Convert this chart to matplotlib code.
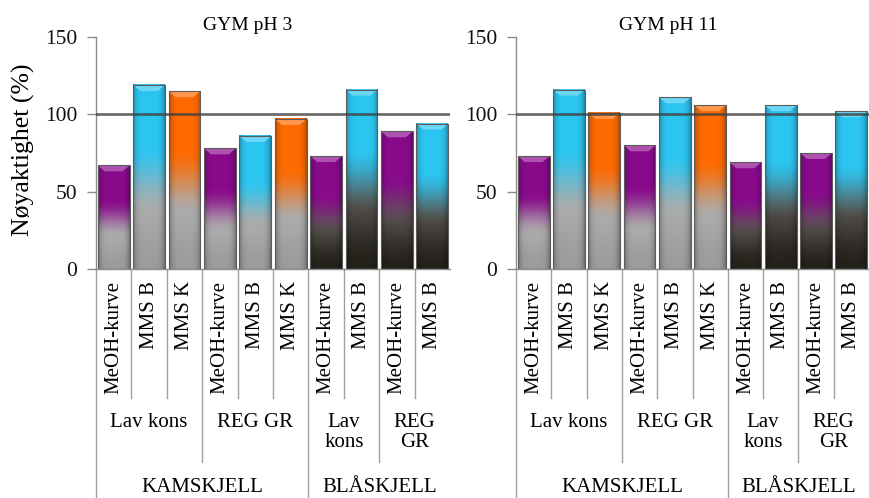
import numpy as np
import matplotlib
matplotlib.use("Agg")
import matplotlib.pyplot as plt
from matplotlib.colors import to_rgb
from matplotlib.patches import Polygon
import matplotlib.transforms as mtransforms

plt.rcParams['font.family'] = ['Liberation Serif', 'DejaVu Serif']

# ---- data ----
methods = ["MeOH-kurve", "MMS B", "MMS K", "MeOH-kurve", "MMS B", "MMS K",
           "MeOH-kurve", "MMS B", "MeOH-kurve", "MMS B"]
subgroups = ["Lav kons", "REG GR", "Lav\nkons", "REG\nGR"]
subgroup_sizes = [3, 3, 2, 2]
groups = ["KAMSKJELL", "BLÅSKJELL"]
group_sizes = [6, 4]
titles = ["GYM pH 3", "GYM pH 11"]
ph3 = [67, 119, 115, 78, 86, 97, 73, 116, 89, 94]
ph11 = [73, 116, 101, 80, 111, 106, 69, 106, 75, 102]
yticks = [0, 50, 100, 150]
reference_level = 100

method_colors = {"MeOH-kurve": "#8a0a8c", "MMS B": "#2cc6f2", "MMS K": "#ff6a00"}
group_base = {"KAMSKJELL": "light", "BLÅSKJELL": "dark"}

W, H = 869, 498
fig = plt.figure(figsize=(W / 100, H / 100), dpi=100)


def px_axes(left, right, top, bottom):
    return [left / W, 1 - bottom / H, (right - left) / W, (bottom - top) / H]


def smoothstep(x):
    x = np.clip(x, 0, 1)
    return x * x * (3 - 2 * x)


def bar_image(top_color, kind, nh=240, nw=48):
    t = np.linspace(0, 1, nh)[:, None]
    s = np.linspace(0, 1, nw)[None, :]
    top = np.array(to_rgb(top_color))
    if kind == "light":
        lo = np.array(to_rgb("#9c9c9c"))
        hi = np.array(to_rgb("#adadad"))
        base = lo + (hi - lo) * smoothstep(t / 0.4)[..., None]
    else:
        lo = np.array(to_rgb("#24211b"))
        hi = np.array(to_rgb("#5e5a55"))
        base = lo + (hi - lo) * smoothstep(t / 0.5)[..., None]
    w = smoothstep((t - 0.3) / 0.38)[..., None]
    col = base * (1 - w) + top * w
    col = np.broadcast_to(col, (nh, nw, 3)).copy()
    edge = 1 - 0.3 * np.abs(2 * s - 1) ** 5
    col *= edge[..., None]
    return np.clip(col, 0, 1)


def lighten(c, f):
    c = np.array(to_rgb(c))
    return tuple(c + (1 - c) * f)


def draw_panel(ax, values, title, title_x, show_ylabel):
    n = len(values)
    width = 0.9
    kinds = []
    for g, size in zip(groups, group_sizes):
        kinds += [group_base[g]] * size
    bars = ax.bar(range(n), values, width=width, facecolor="none",
                  edgecolor="#5c5c5c", linewidth=0.8, zorder=3)
    # pixel height of one data unit, for the top bevel
    unit = 232 / 150
    bev = 6.0 / unit
    for i, (b, v) in enumerate(zip(bars, values)):
        x0 = b.get_x()
        x1 = x0 + b.get_width()
        img = bar_image(method_colors[methods[i]], kinds[i])
        ax.imshow(img, extent=(x0, x1, 0, v), origin="lower",
                  aspect="auto", zorder=2, interpolation="bilinear")
        inset = 0.22 * b.get_width()
        bevel = Polygon([(x0, v), (x1, v), (x1 - inset, v - bev),
                         (x0 + inset, v - bev)], closed=True,
                        facecolor=lighten(method_colors[methods[i]], 0.3),
                        edgecolor="none", zorder=2.5)
        ax.add_patch(bevel)
    ax.axhline(reference_level, color="#404040", alpha=0.8, lw=1.9, zorder=4)

    ax.set_xlim(-0.5, n - 0.5)
    ax.set_ylim(yticks[0], yticks[-1])
    ax.set_yticks(yticks)
    ax.set_xticks([])
    for sp in ("top", "right"):
        ax.spines[sp].set_visible(False)
    for sp in ("left", "bottom"):
        ax.spines[sp].set_color("#8c8c8c")
        ax.spines[sp].set_linewidth(1.0)
    ax.tick_params(axis="y", length=6.5, width=1.0, color="#8c8c8c",
                   labelsize=15.5, pad=7, labelcolor="#111111")
    ax.set_facecolor("white")

    trans = mtransforms.blended_transform_factory(ax.transData, ax.transAxes)
    ypx = lambda p: (269 - p) / 232
    line_kw = dict(color="#a0a0a0", lw=1.0, transform=trans, clip_on=False)

    # method labels
    for i, m in enumerate(methods):
        ax.text(i, ypx(281), m, rotation=90, ha="center", va="top",
                fontsize=15, transform=trans)
    # boundaries between methods
    group_edges = set(np.cumsum([0] + group_sizes) - 0.5)
    sub_edges = set(np.cumsum([0] + subgroup_sizes) - 0.5)
    for k in range(n):
        bnd = k - 0.5
        if bnd in group_edges:
            yend = ypx(498)
        elif bnd in sub_edges:
            yend = ypx(462)
        else:
            yend = ypx(398)
        ax.plot([bnd, bnd], [0, yend], **line_kw)
    # subgroup labels
    start = 0
    for lab, size in zip(subgroups, subgroup_sizes):
        ax.text(start + (size - 1) / 2, ypx(413), lab, ha="center", va="top",
                fontsize=15, linespacing=1.05, transform=trans)
        start += size
    # group labels
    start = 0
    for lab, size in zip(groups, group_sizes):
        ax.text(start + (size - 1) / 2, ypx(487), lab, ha="center",
                va="center", fontsize=15, transform=trans)
        start += size

    fig.text(title_x / W, 1 - 25 / H, title, ha="center", va="center",
             fontsize=14)
    if show_ylabel:
        fig.text(23 / W, 1 - 150 / H, "Nøyaktighet (%)", rotation=90,
                 ha="center", va="center", fontsize=18.5)


ax1 = fig.add_axes(px_axes(96, 450, 37, 269))
ax2 = fig.add_axes(px_axes(516, 869, 37, 269))
draw_panel(ax1, ph3, titles[0], 248, True)
draw_panel(ax2, ph11, titles[1], 668, False)

fig.savefig("out.png", dpi=100, facecolor="white")
